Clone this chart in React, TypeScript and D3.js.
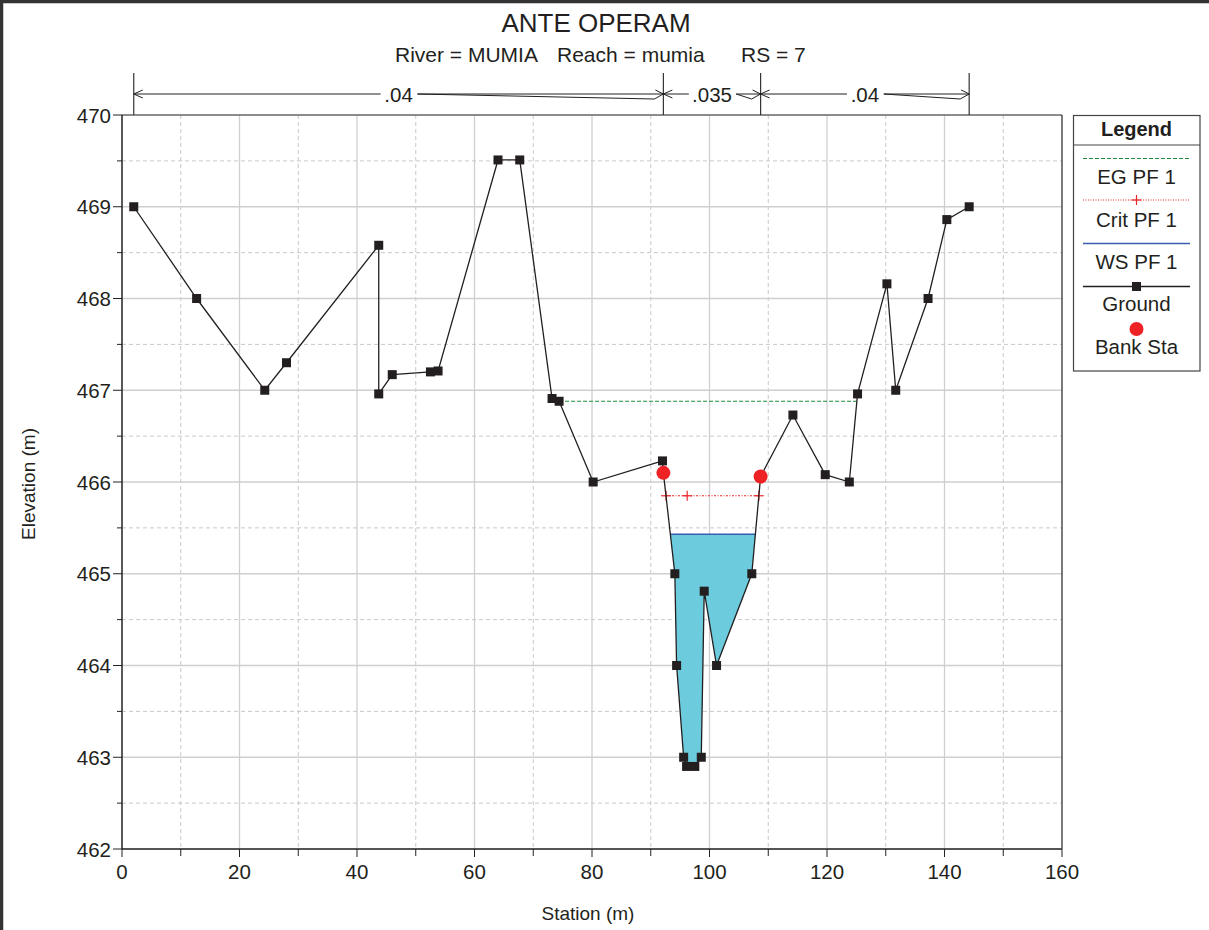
import React from "react";
import * as d3 from "d3";

// ---------- data ----------
const groundStation = [2.0, 12.7, 24.3, 28.0, 43.7, 43.7, 46.0, 52.5, 53.8, 64.0, 67.7, 73.2, 74.4, 80.2, 92.0, 92.15, 94.1, 94.4, 95.6, 96.1, 97.5, 98.6, 99.1, 101.2, 107.2, 108.7, 114.2, 119.7, 123.8, 125.2, 130.2, 131.7, 137.2, 140.4, 144.2];
const groundElev = [469.0, 468.0, 467.0, 467.3, 468.58, 466.96, 467.17, 467.2, 467.21, 469.51, 469.51, 466.91, 466.88, 466.0, 466.23, 466.1, 465.0, 464.0, 463.0, 462.9, 462.9, 463.0, 464.81, 464.0, 465.0, 466.06, 466.73, 466.08, 466.0, 466.96, 468.16, 467.0, 468.0, 468.86, 469.0];
const bankStations = [92.15, 108.7];
const egElev = 466.88;
const critElev = 465.85;
const critMarkStations = [92.6, 96.2, 108.4];
const wsElev = 465.43;
const manningEdges = [2.0, 92.15, 108.7, 144.2];
const manningValues = [".04", ".035", ".04"];
const xTicks = [0, 20, 40, 60, 80, 100, 120, 140, 160];
const yTicks = [462, 463, 464, 465, 466, 467, 468, 469, 470];
const legendItems = ["EG PF 1", "Crit PF 1", "WS PF 1", "Ground", "Bank Sta"];

const FONT = "Arial, 'Liberation Sans', sans-serif";

const ground = groundStation.map((s, i) => ({ s, e: groundElev[i] }));

const x = d3.scaleLinear().domain([0, 160]).range([122, 1062]);
const y = d3.scaleLinear().domain([462, 470]).range([849, 115]);

function interp(a: { s: number; e: number }, b: { s: number; e: number }, lvl: number) {
  const t = (lvl - a.e) / (b.e - a.e);
  return a.s + t * (b.s - a.s);
}

// extents of a water level inside the channel (walk outward from the channel's deepest part)
function levelExtent(lvl: number) {
  const li = ground.findIndex((p) => p.s >= bankStations[0]);
  const ri = ground.findIndex((p) => p.s >= bankStations[1]);
  const mid = Math.floor((li + ri) / 2);
  let left = ground[li].s;
  for (let i = mid; i > 0; i--) {
    if (ground[i].e >= lvl) { left = ground[i].s; break; }
    if (ground[i - 1].e >= lvl) {
      left = interp(ground[i - 1], ground[i], lvl);
      break;
    }
  }
  let right = ground[ri].s;
  for (let i = mid; i < ground.length - 1; i++) {
    if (ground[i + 1].e >= lvl && ground[i].e < lvl) {
      right = interp(ground[i], ground[i + 1], lvl);
      break;
    }
  }
  return [left, right];
}

function egExtent(lvl: number) {
  const li = ground.findIndex((p) => p.s >= bankStations[0]);
  const ri = ground.findIndex((p) => p.s >= bankStations[1]);
  let left = ground[0].s;
  for (let i = li; i > 0; i--) {
    if (ground[i - 1].e >= lvl) {
      left = ground[i].e >= lvl ? ground[i].s : interp(ground[i - 1], ground[i], lvl);
      break;
    }
  }
  let right = ground[ground.length - 1].s;
  for (let i = ri; i < ground.length - 1; i++) {
    if (ground[i + 1].e >= lvl) {
      right = interp(ground[i], ground[i + 1], lvl);
      break;
    }
  }
  return [left, right];
}

function waterPolygon(lvl: number) {
  const [l, r] = levelExtent(lvl);
  const pts: [number, number][] = [[l, lvl]];
  ground.forEach((p) => {
    if (p.s > l && p.s < r && p.e < lvl) pts.push([p.s, p.e]);
  });
  pts.push([r, lvl]);
  return pts;
}

export default function App() {
  const line = d3.line<{ s: number; e: number }>().x((d) => x(d.s)).y((d) => y(d.e));
  const poly = d3.line<[number, number]>().x((d) => x(d[0])).y((d) => y(d[1]));
  const wsPts = waterPolygon(wsElev);
  const [wsL, wsR] = levelExtent(wsElev);
  const [crL, crR] = levelExtent(critElev);
  const [egL, egR] = egExtent(egElev);

  const minorX = d3.range(10, 160, 20);
  const minorY = d3.range(462.5, 470, 1);

  const arrowY = 94;
  const manning = manningValues.map((v, i) => {
    const x1 = x(manningEdges[i]);
    const x2 = x(manningEdges[i + 1]);
    const cx = (x1 + x2) / 2;
    const half = v.length * 5.3;
    return { v, x1, x2, cx, tl: cx - half - 2, tr: cx + half + 3 };
  });

  const lx1 = 1083, lx2 = 1190, lcx = 1136.5;

  return (
    <svg width={1209} height={930} style={{ position: "absolute", left: 0, top: 0 }} fontFamily={FONT}>
      <rect x={0} y={0} width={1209} height={930} fill="#fff" />
      <rect x={1.5} y={1.5} width={1300} height={1100} fill="none" stroke="#333" strokeWidth={3.5} />

      {/* grid */}
      {minorX.map((t) => (
        <line key={"mx" + t} x1={x(t)} x2={x(t)} y1={115} y2={849} stroke="#c8c8c8" strokeDasharray="4,3" />
      ))}
      {xTicks.slice(1, -1).map((t) => (
        <line key={"gx" + t} x1={x(t)} x2={x(t)} y1={115} y2={849} stroke="#cfcfcf" strokeWidth={1.3} />
      ))}
      {minorY.map((t) => (
        <line key={"my" + t} x1={122} x2={1062} y1={y(t)} y2={y(t)} stroke="#c8c8c8" strokeDasharray="4,3" />
      ))}
      {yTicks.slice(1, -1).map((t) => (
        <line key={"gy" + t} x1={122} x2={1062} y1={y(t)} y2={y(t)} stroke="#cfcfcf" strokeWidth={1.3} />
      ))}

      {/* frame of plot */}
      <line x1={122} x2={1062} y1={115} y2={115} stroke="#666" strokeWidth={1.3} />
      <line x1={1062} x2={1062} y1={115} y2={849} stroke="#333" strokeWidth={1.3} />
      <line x1={122} x2={1062} y1={849} y2={849} stroke="#555" strokeWidth={2} />
      <line x1={122} x2={122} y1={115} y2={849} stroke="#222" strokeWidth={1.5} />

      {/* ticks */}
      {yTicks.map((t) => (
        <g key={"yt" + t}>
          <line x1={113} x2={122} y1={y(t)} y2={y(t)} stroke="#222" />
          <text x={111} y={y(t) + 7.5} textAnchor="end" fontSize={20.5} fill="#231f20">{t}</text>
        </g>
      ))}
      {minorY.map((t) => (
        <line key={"ymt" + t} x1={117} x2={122} y1={y(t)} y2={y(t)} stroke="#222" />
      ))}
      {xTicks.map((t) => (
        <g key={"xt" + t}>
          <line x1={x(t)} x2={x(t)} y1={849} y2={857} stroke="#222" />
          <text x={x(t)} y={879} textAnchor="middle" fontSize={20.5} fill="#231f20">{t}</text>
        </g>
      ))}
      {minorX.map((t) => (
        <line key={"xmt" + t} x1={x(t)} x2={x(t)} y1={849} y2={856} stroke="#222" />
      ))}

      {/* axis titles */}
      <text x={588} y={920} textAnchor="middle" fontSize={19} fill="#231f20">Station (m)</text>
      <text transform="translate(35,484) rotate(-90)" textAnchor="middle" fontSize={19} fill="#231f20">Elevation (m)</text>

      {/* titles */}
      <text x={596} y={32} textAnchor="middle" fontSize={26} fill="#231f20">ANTE OPERAM</text>
      <text x={395} y={62} fontSize={21} fill="#231f20">River = MUMIA</text>
      <text x={557} y={62} fontSize={21} fill="#231f20">Reach = mumia</text>
      <text x={741} y={62} fontSize={21} fill="#231f20">RS = 7</text>

      {/* manning's n */}
      {manningEdges.map((s, i) => (
        <line key={"me" + i} x1={x(s)} x2={x(s)} y1={73} y2={115} stroke="#333" strokeWidth={1.2} />
      ))}
      {manning.map((m, i) => (
        <g key={"mn" + i} stroke="#231f20" fill="none" strokeWidth={1}>
          <line x1={m.x1} x2={m.tl} y1={arrowY} y2={arrowY} />
          <polyline points={`${m.x1 + 9},${arrowY - 4} ${m.x1},${arrowY} ${m.x1 + 9},${arrowY + 4}`} />
          <line x1={m.tr} x2={m.x2} y1={arrowY} y2={arrowY} />
          <polyline points={`${m.tr},${arrowY} ${m.x2 - 9},${arrowY + 5} ${m.x2},${arrowY} ${m.x2 - 8},${arrowY - 4}`} />
          <text x={m.cx} y={arrowY + 8} textAnchor="middle" fontSize={20.5} fill="#231f20" stroke="none">{m.v}</text>
        </g>
      ))}

      {/* water */}
      <path d={poly(wsPts) + "Z"} fill="#6ccbdc" stroke="none" />
      <line x1={x(wsL)} x2={x(wsR)} y1={y(wsElev)} y2={y(wsElev)} stroke="#3a5cb0" strokeWidth={1.5} />

      {/* EG */}
      <line x1={x(egL)} x2={x(egR)} y1={y(egElev)} y2={y(egElev)} stroke="#1a8a3c" strokeDasharray="4,2" strokeWidth={1.2} />

      {/* Crit */}
      <line x1={x(crL)} x2={x(crR)} y1={y(critElev)} y2={y(critElev)} stroke="#e8262a" strokeDasharray="2,1.5,1,1.5" strokeWidth={1} />
      {critMarkStations.map((s, i) => (
        <g key={"cm" + i} stroke="#e8262a" strokeWidth={1.2}>
          <line x1={x(s) - 5} x2={x(s) + 5} y1={y(critElev)} y2={y(critElev)} />
          <line x1={x(s)} x2={x(s)} y1={y(critElev) - 5} y2={y(critElev) + 5} />
        </g>
      ))}

      {/* ground */}
      <path d={line(ground) || ""} fill="none" stroke="#231f20" strokeWidth={1.3} />
      {ground.map((p, i) => (
        <rect key={"g" + i} x={x(p.s) - 4.5} y={y(p.e) - 4.5} width={9} height={9} fill="#231f20" />
      ))}

      {/* bank stations */}
      {bankStations.map((s, i) => {
        const idx = ground.findIndex((p) => p.s === s);
        return <circle key={"b" + i} cx={x(s)} cy={y(ground[idx].e)} r={7} fill="#ee2224" />;
      })}

      {/* legend */}
      <rect x={1073.5} y={115.5} width={126.5} height={255.5} fill="#fff" stroke="#444" strokeWidth={1.2} />
      <line x1={1073.5} x2={1200} y1={145} y2={145} stroke="#444" strokeWidth={1.2} />
      <text x={lcx} y={136} textAnchor="middle" fontSize={20} fontWeight="bold" fill="#231f20">Legend</text>

      <line x1={lx1} x2={lx2} y1={158.5} y2={158.5} stroke="#1a8a3c" strokeDasharray="4,2" strokeWidth={1.2} />
      <text x={lcx} y={184} textAnchor="middle" fontSize={20.5} fill="#231f20">{legendItems[0]}</text>

      <line x1={lx1} x2={lx2} y1={200} y2={200} stroke="#e8262a" strokeDasharray="1,1.5" strokeWidth={1} />
      <line x1={lcx - 5} x2={lcx + 5} y1={200} y2={200} stroke="#e8262a" strokeWidth={1.2} />
      <line x1={lcx} x2={lcx} y1={195} y2={205} stroke="#e8262a" strokeWidth={1.2} />
      <text x={lcx} y={227} textAnchor="middle" fontSize={20.5} fill="#231f20">{legendItems[1]}</text>

      <line x1={lx1} x2={lx2} y1={243.5} y2={243.5} stroke="#3a5cb0" strokeWidth={1.3} />
      <text x={lcx} y={269} textAnchor="middle" fontSize={20.5} fill="#231f20">{legendItems[2]}</text>

      <line x1={lx1} x2={lx2} y1={286.5} y2={286.5} stroke="#231f20" strokeWidth={1.3} />
      <rect x={lcx - 4.5} y={282} width={9} height={9} fill="#231f20" />
      <text x={lcx} y={311} textAnchor="middle" fontSize={20.5} fill="#231f20">{legendItems[3]}</text>

      <circle cx={lcx} cy={329} r={7} fill="#ee2224" />
      <text x={lcx} y={354} textAnchor="middle" fontSize={20.5} fill="#231f20">{legendItems[4]}</text>
    </svg>
  );
}
